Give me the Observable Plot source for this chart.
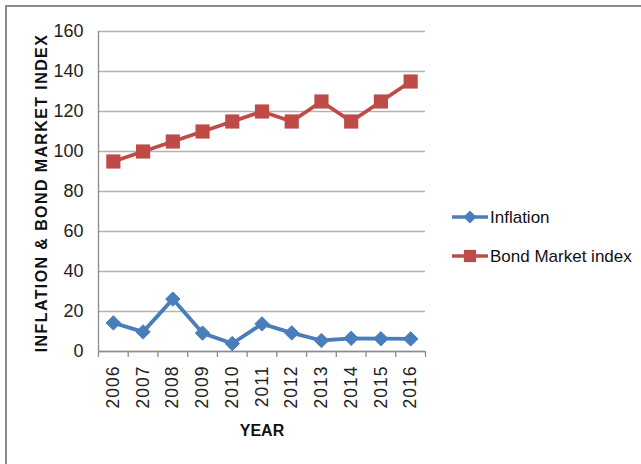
<!DOCTYPE html>
<html><head><meta charset="utf-8">
<script src="https://cdn.jsdelivr.net/npm/d3@7"></script>
<script src="https://cdn.jsdelivr.net/npm/@observablehq/plot@0.6"></script>
<style>
body{margin:0;background:#fff;}
#wrap{position:absolute;left:5px;top:5px;width:640px;height:464px;border:2px solid #8a8a8a;box-sizing:border-box;}
#chart{position:absolute;left:0;top:0;}
#chart svg g[aria-label="x-axis tick label"] text{letter-spacing:1px;font-size:17.5px;fill:#222;}
#chart svg g[aria-label="y-axis tick label"] text{font-size:18px;fill:#222;}
</style></head>
<body>
<div id="wrap"></div>
<div id="chart"></div>
<script>
const years = [2006,2007,2008,2009,2010,2011,2012,2013,2014,2015,2016];
const inflation = [14.3,9.8,26.2,9.2,4.0,13.8,9.3,5.5,6.6,6.4,6.3];
const bondIndex = [95,100,105,110,115,120,115,125,115,125,135];
const yTicks = [0,20,40,60,80,100,120,140,160];
const seriesNames = ["Inflation","Bond Market index"];
const colors = ["#4A7EBB","#BE4B48"];

const infl = years.map((y,i)=>({year:y,value:inflation[i]}));
const bond = years.map((y,i)=>({year:y,value:bondIndex[i]}));
const bounds = [years[0]-0.5, ...years.map(y=>y+0.5)];
const font = "Liberation Sans, Arial, sans-serif";

const plot = Plot.plot({
  width:641, height:464,
  marginLeft:98, marginRight:216, marginTop:31, marginBottom:113,
  style:{fontFamily:font, fontSize:"18px", color:"#222", background:"transparent", overflow:"visible"},
  x:{domain:[years[0]-0.5, years[years.length-1]+0.5]},
  y:{domain:[0,160]},
  marks:[
    Plot.gridY(yTicks,{stroke:"#b3b3b3", strokeOpacity:1, strokeWidth:1.3}),
    Plot.ruleX([years[0]-0.5],{y1:0,y2:160,stroke:"#8c8c8c",strokeWidth:1.3}),
    Plot.ruleY([0],{stroke:"#8c8c8c",strokeWidth:1.3}),
    Plot.ruleX(bounds,{y1:0,y2:-3,stroke:"#8c8c8c",strokeWidth:1.3}),
    Plot.axisY(yTicks,{tickSize:0,tickPadding:15,label:null,fontSize:18}),
    Plot.axisX(years,{tickSize:0,tickPadding:14,tickRotate:-90,tickFormat:d=>String(d),label:null,fontSize:17.5}),
    Plot.line(infl,{x:"year",y:"value",stroke:colors[0],strokeWidth:3.8}),
    Plot.dot(infl,{x:"year",y:"value",symbol:"diamond2",r:6.5,fill:colors[0],stroke:colors[0],strokeWidth:1}),
    Plot.line(bond,{x:"year",y:"value",stroke:colors[1],strokeWidth:3.8}),
    Plot.dot(bond,{x:"year",y:"value",symbol:"square",r:8,fill:colors[1],stroke:"none"})
  ]
});
document.getElementById("chart").appendChild(plot);

const svg = d3.select(plot);
svg.append("text").attr("x",262).attr("y",436).attr("text-anchor","middle")
  .attr("font-family",font).attr("font-weight","bold").attr("font-size",16).attr("fill","#111").text("YEAR");
svg.append("text").attr("transform","translate(47,193) rotate(-90)").attr("text-anchor","middle")
  .attr("font-family",font).attr("font-weight","bold").attr("font-size",16).attr("letter-spacing","1.4px").attr("fill","#111")
  .text("INFLATION & BOND MARKET INDEX");

const lg = svg.append("g");
seriesNames.forEach((name,i)=>{
  const cy = 217 + i*39;
  const g = lg.append("g");
  g.append("line").attr("x1",452).attr("x2",488).attr("y1",cy).attr("y2",cy).attr("stroke",colors[i]).attr("stroke-width",3.5);
  if(i===0){
    g.append("path").attr("d",d3.symbol(d3.symbolDiamond2, 110)()).attr("transform",`translate(470,${cy})`).attr("fill",colors[i]);
  } else {
    g.append("path").attr("d",d3.symbol(d3.symbolSquare, 150)()).attr("transform",`translate(470,${cy})`).attr("fill",colors[i]);
  }
  g.append("text").attr("x",490).attr("y",cy).attr("dy","0.35em").attr("text-anchor","start").attr("font-family",font).attr("font-size",17).attr("fill","#111").text(name);
});
</script>
</body></html>
